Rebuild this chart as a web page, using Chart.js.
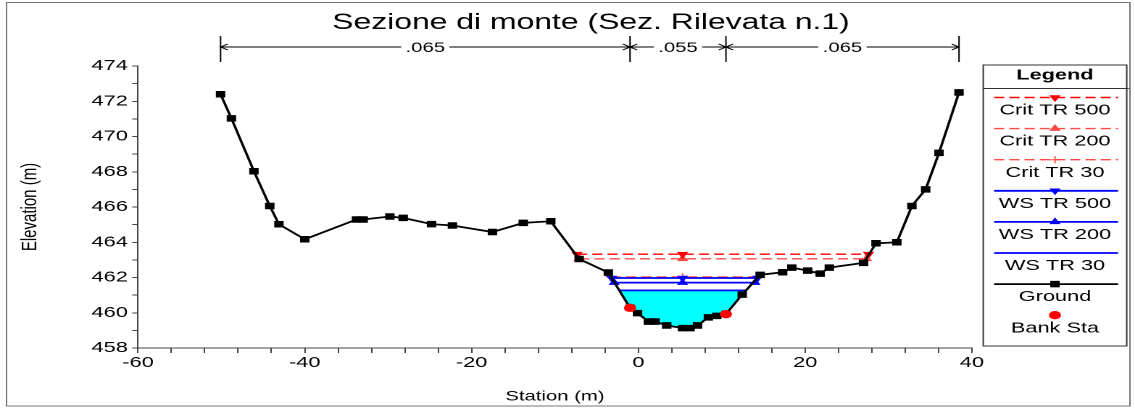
<!DOCTYPE html>
<html>
<head>
<meta charset="utf-8">
<script src="https://cdn.jsdelivr.net/npm/chart.js@4.4.0/dist/chart.umd.min.js"></script>
<style>
  html, body { margin: 0; padding: 0; background: #fff; }
  #sezione { display: block; }
</style>
</head>
<body>
<canvas id="sezione" width="783" height="410"></canvas>
<script>
// surveyed ground points, station (m) / elevation (m)
const groundX = [-50.1, -48.8, -46.1, -44.2, -43.1, -40.0, -33.8, -33.0, -29.8, -28.2, -24.8, -22.3,
  -17.5, -13.8, -10.5, -7.1, -3.6, -1.0, -0.1, 1.2, 2.0, 3.4, 5.3, 6.2, 7.1, 8.4, 9.4, 10.5,
  12.45, 14.6, 17.3, 18.4, 20.3, 21.8, 22.9, 27.0, 28.5, 31.0, 32.8, 34.45, 36.05, 38.45];
const groundY = [472.4, 471.03, 468.03, 466.06, 465.02, 464.17, 465.29, 465.29, 465.46, 465.38, 465.03, 464.95,
  464.58, 465.1, 465.19, 463.05, 462.28, 460.28, 459.98, 459.5, 459.5, 459.28, 459.13, 459.13, 459.28, 459.74, 459.82, 459.92,
  461.03, 462.15, 462.3, 462.56, 462.39, 462.22, 462.56, 462.83, 463.94, 464.0, 466.06, 467.0, 469.07, 472.5];

// bank stations
const bankX = [-1.0, 10.5];
const bankY = [460.28, 459.92];

// return periods: critical depth and water surface, with wetted limits
const profileNames = ['TR 500', 'TR 200', 'TR 30'];
const critLevel = [463.32, 463.06, 462.03];
const critLeft = [-7.35, -7.1, -3.3];
const critRight = [27.6, 27.35, 14.4];
const wsLevel = [461.97, 461.71, 461.27];
const wsLeft = [-3.2, -2.9, -2.35];
const wsRight = [14.3, 14.0, 13.0];
const markStation = 5.3;

// Manning n between bank stations
const mannN = ['.065', '.055', '.065'];

const xTickLabels = [-60, -40, -20, 0, 20, 40];
const yTickLabels = [458, 460, 462, 464, 466, 468, 470, 472, 474];

const FONT = 'Arial, "Liberation Sans", sans-serif';
Chart.defaults.font.family = FONT;
Chart.defaults.color = '#000';

const pts = (xs, ys) => xs.map((x, i) => ({ x: x, y: ys[i] }));
const levelLine = (lvl, l, r) => [{ x: l, y: lvl }, { x: markStation, y: lvl }, { x: r, y: lvl }];

// wetted area under the lowest water surface
const lowWs = wsLevel[2];
const waterPts = [{ x: wsLeft[2], y: lowWs }]
  .concat(pts(groundX, groundY).filter(p => p.x > wsLeft[2] && p.x < wsRight[2]))
  .concat([{ x: wsRight[2], y: lowWs }]);

const critColors = ['#ff0000', '#ff4a4a', '#ff4a4a'];
const critStyles = [
  { pointStyle: 'triangle', rotation: 180 },
  { pointStyle: 'triangle', rotation: 0 },
  { pointStyle: 'cross', rotation: 0 },
];
const wsStyles = [
  { pointStyle: 'triangle', rotation: 180, r: 3.5 },
  { pointStyle: 'triangle', rotation: 0, r: 3.5 },
  { pointStyle: false, rotation: 0, r: 0 },
];

const datasets = [];
datasets.push({
  legendText: null, data: waterPts, showLine: true, pointRadius: 0, borderWidth: 0,
  backgroundColor: '#00ffff', fill: { value: lowWs }, order: 5,
});
critLevel.forEach((lvl, i) => {
  datasets.push({
    legendText: 'Crit ' + profileNames[i],
    data: levelLine(lvl, critLeft[i], critRight[i]),
    showLine: true, borderColor: critColors[i], borderWidth: 1.4, borderDash: [7, 3.5],
    pointStyle: critStyles[i].pointStyle, pointRotation: critStyles[i].rotation,
    pointRadius: 3.6, pointBorderWidth: 1, pointBorderColor: critColors[i], pointBackgroundColor: critColors[i],
    fill: false, order: 4,
  });
});
wsLevel.forEach((lvl, i) => {
  datasets.push({
    legendText: 'WS ' + profileNames[i],
    data: levelLine(lvl, wsLeft[i], wsRight[i]),
    showLine: true, borderColor: '#0000ff', borderWidth: 1.8,
    pointStyle: wsStyles[i].pointStyle || 'circle', pointRotation: wsStyles[i].rotation,
    pointRadius: wsStyles[i].r, pointBorderWidth: 1, pointBorderColor: '#0000ff', pointBackgroundColor: '#0000ff',
    fill: false, order: 3,
  });
});
datasets.push({
  legendText: 'Ground', data: pts(groundX, groundY), showLine: true,
  borderColor: '#000', borderWidth: 1.8, pointStyle: 'rect', pointRadius: 4.6,
  pointBorderWidth: 0, pointBackgroundColor: '#000', pointBorderColor: '#000', fill: false, order: 2,
});
datasets.push({
  legendText: 'Bank Sta', data: pts(bankX, bankY), showLine: false,
  pointStyle: 'circle', pointRadius: 4.2, pointBorderWidth: 0,
  pointBackgroundColor: '#ff0000', pointBorderColor: '#ff0000', order: 1,
});

// frame, title and the Manning n dimension bar
const sectionDecor = {
  id: 'sectionDecor',
  afterDraw(chart) {
    const ctx = chart.ctx;
    const xs = chart.scales.x;
    ctx.save();
    ctx.strokeStyle = '#777';
    ctx.lineWidth = 1;
    ctx.strokeRect(4.5, 2.5, 775, 403.5);

    ctx.fillStyle = '#000';
    ctx.textAlign = 'center';
    ctx.textBaseline = 'middle';
    ctx.font = '22px ' + FONT;
    ctx.fillText('Sezione di monte (Sez. Rilevata n.1)', 407.7, 23);

    const edges = [groundX[0], bankX[0], bankX[1], groundX[groundX.length - 1]]
      .map(v => xs.getPixelForValue(v));
    const y = 47;
    ctx.strokeStyle = '#000';
    ctx.beginPath();
    edges.forEach(p => { ctx.moveTo(p, 36); ctx.lineTo(p, 62); });
    ctx.stroke();
    ctx.font = '14px ' + FONT;
    mannN.forEach((txt, i) => {
      const a = edges[i], b = edges[i + 1], mid = (a + b) / 2;
      const half = ctx.measureText(txt).width / 2 + 3;
      ctx.beginPath();
      ctx.moveTo(a, y); ctx.lineTo(mid - half, y);
      ctx.moveTo(mid + half, y); ctx.lineTo(b, y);
      ctx.moveTo(a + 5, y - 3); ctx.lineTo(a, y); ctx.lineTo(a + 5, y + 3);
      ctx.moveTo(b - 5, y - 3); ctx.lineTo(b, y); ctx.lineTo(b - 5, y + 3);
      ctx.stroke();
      ctx.fillText(txt, mid, y + 1);
    });
    ctx.restore();
  }
};

// boxed legend on the right, sample line above each label
const sectionLegend = {
  id: 'sectionLegend',
  afterDraw(chart) {
    const ctx = chart.ctx;
    const L = 678.3, R = 777.3, T = 65, B = 346;
    const cx = (L + R) / 2;
    ctx.save();
    ctx.strokeStyle = '#333';
    ctx.lineWidth = 1;
    ctx.strokeRect(L, T, R - L, B - T);
    ctx.beginPath(); ctx.moveTo(L, 88.5); ctx.lineTo(R + 1.5, 88.5); ctx.stroke();
    ctx.fillStyle = '#000';
    ctx.textAlign = 'center';
    ctx.textBaseline = 'middle';
    ctx.font = 'bold 15px ' + FONT;
    ctx.fillText('Legend', cx, 75.5);

    const items = chart.data.datasets.filter(d => d.legendText);
    items.forEach((d, i) => {
      const ly = 97.5 + i * 31.1;
      if (d.showLine) {
        ctx.save();
        ctx.strokeStyle = d.borderColor;
        ctx.lineWidth = d.borderWidth;
        ctx.setLineDash(d.borderDash || []);
        ctx.beginPath(); ctx.moveTo(L + 7.5, ly); ctx.lineTo(R - 6, ly); ctx.stroke();
        ctx.restore();
      }
      if (d.pointRadius > 0) {
        ctx.save();
        ctx.fillStyle = d.pointBackgroundColor;
        ctx.strokeStyle = d.pointBorderColor;
        ctx.lineWidth = d.pointBorderWidth || 1;
        Chart.helpers.drawPoint(ctx, {
          pointStyle: d.pointStyle, rotation: d.pointRotation || 0,
          radius: d.pointRadius, borderWidth: d.pointBorderWidth,
        }, cx, ly);
        ctx.restore();
      }
      ctx.fillStyle = '#000';
      ctx.font = '15px ' + FONT;
      ctx.fillText(d.legendText, cx, ly + 13);
    });
    ctx.restore();
  }
};

const canvas = document.getElementById('sezione');
const chart = new Chart(canvas, {
  type: 'scatter',
  data: { datasets: datasets },
  options: {
    responsive: false,
    animation: false,
    devicePixelRatio: 2,
    layout: { padding: { left: 8, right: 112.5, top: 66, bottom: 2 } },
    plugins: { legend: { display: false }, tooltip: { enabled: false } },
    scales: {
      x: {
        type: 'linear', min: -60, max: 40,
        afterFit: s => { s.height = 60; },
        border: { display: true, color: '#444', width: 1 },
        grid: { drawOnChartArea: false, color: '#444', tickLength: 5 },
        ticks: {
          stepSize: 4, autoSkip: false, maxRotation: 0, padding: 1,
          font: { size: 15 },
          callback: v => xTickLabels.includes(v) ? String(v) : '',
        },
        title: { display: true, text: 'Station (m)', font: { size: 14 }, padding: { top: 0, bottom: 3 } },
      },
      y: {
        type: 'linear', min: 458, max: 474,
        afterFit: s => { s.width = 87.2; },
        border: { display: true, color: '#444', width: 1 },
        grid: { drawOnChartArea: false, color: '#444', tickLength: 4 },
        ticks: {
          stepSize: 1, autoSkip: false, padding: 3,
          font: { size: 15 },
          callback: v => yTickLabels.includes(v) ? String(v) : '',
        },
        title: { display: true, text: 'Elevation (m)', font: { size: 15 }, padding: { top: 4, bottom: 0 } },
      },
    },
  },
  plugins: [sectionDecor, sectionLegend],
});
// the section sheet is printed wide: stretch the drawing across the page
canvas.style.width = '1135px';
canvas.style.height = '410px';
</script>
</body>
</html>
